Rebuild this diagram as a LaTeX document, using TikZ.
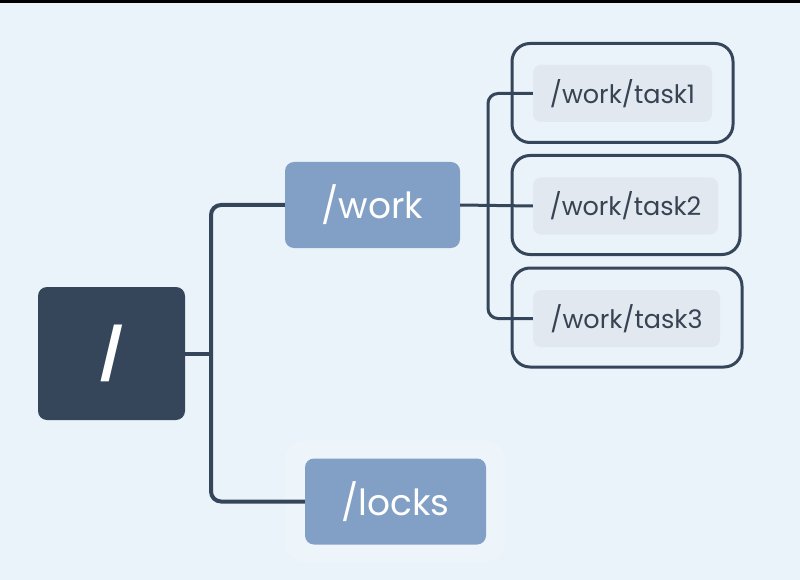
\documentclass[tikz,border=0pt]{standalone}
\usepackage{fontspec}
\setmainfont{Poppins}
\usepackage{tikz}
\definecolor{bgblue}{RGB}{235,243,250}
\definecolor{darknode}{RGB}{53,69,90}
\definecolor{midnode}{RGB}{130,160,198}
\definecolor{tagfill}{RGB}{225,232,240}
\definecolor{tagtext}{RGB}{55,66,82}
\tikzset{
  x=1pt,
  y=-1pt,
}
\tikzstyle{rootbox}=[fill=darknode,text=white,rounded corners=9pt,minimum width=147pt,minimum height=133pt,font=\fontsize{50}{50}\selectfont\bfseries]
\tikzstyle{dirbox}=[fill=midnode,text=white,rounded corners=9pt,minimum height=86pt,font=\fontsize{36}{36}\selectfont]
\tikzstyle{taskframe}=[draw=darknode,line width=3pt,rounded corners=18pt,minimum height=99pt]
\tikzstyle{tasktag}=[fill=tagfill,text=tagtext,rounded corners=8pt,minimum height=57pt,font=\fontsize{25.5}{25.5}\selectfont]
\tikzstyle{wire}=[draw=darknode,line width=4pt,rounded corners=10pt]
\tikzstyle{thinwire}=[draw=darknode,line width=3pt,rounded corners=10pt]

\begin{document}
\begin{tikzpicture}
    \fill[bgblue] (0,0) rectangle (800,580);
    \useasboundingbox (0,0) rectangle (800,580);
    \fill[black] (0,0) rectangle (800,3);
    % faint halo behind /locks
    \fill[white,opacity=.12,rounded corners=20pt] (285,440) rectangle (505,562);
    \node[rootbox] (root) at (111.5,353.5) {/};
    \node[dirbox,minimum width=175pt] (work) at (372.5,205) {/work};
    \node[dirbox,minimum width=181pt] (locks) at (395.5,501.5) {/locks};
    \node[taskframe,minimum width=221pt] (frame1) at (622.5,93) {};
    \node[taskframe,minimum width=228pt] (frame2) at (626,205) {};
    \node[taskframe,minimum width=230pt] (frame3) at (627,317.5) {};
    \node[tasktag,minimum width=179pt] (task1) at (622.5,93.5) {/work/task1};
    \node[tasktag,minimum width=185pt] (task2) at (625.5,206) {/work/task2};
    \node[tasktag,minimum width=187pt] (task3) at (626.5,318.5) {/work/task3};
    \coordinate (trunk) at (211,0);
    \coordinate (branch) at (488,0);
    \draw[wire] (work.west) -| (trunk |- root) |- (locks.west);
    \draw[wire] (root.east) -- (trunk |- root);
    \draw[thinwire] (task1.west) -| (branch |- work) |- (task3.west);
    \draw[thinwire] (work.east) -- (task2.west);
\end{tikzpicture}
\end{document}
